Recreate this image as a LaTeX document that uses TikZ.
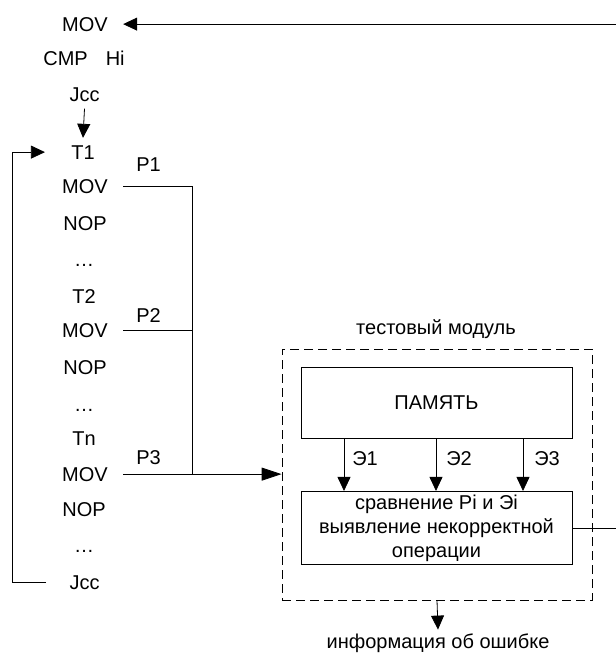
\documentclass[tikz,border=0pt]{standalone}
\usepackage{fontspec}
\setmainfont{Liberation Sans}
\usetikzlibrary{arrows.meta}

\def\ux{1pt}
\def\uy{-1pt}

\begin{document}
\begin{tikzpicture}[x=\ux,y=\uy, font=\fontsize{20}{24}\selectfont, line width=0.8pt]
		\tikzset{
			arr/.style={-{Triangle[length=14pt,width=13pt]}},
			longarr/.style={-{Triangle[length=20pt,width=13pt]}},
			op/.style={anchor=base, inner ysep=7pt, inner xsep=15pt},
			lbl/.style={anchor=base},
			blk/.style={draw, minimum width=271, minimum height=#1, align=center},
			module/.style={draw, dash pattern=on 9pt off 5pt, minimum width=310, minimum height=251},
		}
		\useasboundingbox (0,0) rectangle (616,659);

		% program column
		\foreach \n/\x/\y/\t in {mov0/85/31/MOV, cmp/84/65/{CMP\hspace{0.9em}Hi}, jcc0/84.5/101/Jcc,
		  t1/83/159/T1, mov1/85/193/MOV, nop1/85/230/NOP, dots1/84/266/\ldots,
		  t2/84/303/T2, mov2/85/337/MOV, nop2/85/374/NOP, dots2/84/411/\ldots,
		  tn/84/445/Tn, mov3/85/481/MOV, nop3/84/516/NOP, dots3/84/552/\ldots,
		  jcc/84.5/589/Jcc}{
			\node[op] (\n) at (\x,\y) {\t};
		}
		\foreach \n/\y in {1/171,2/322,3/464}{
			\node[lbl] (p\n) at (148.5,\y) {P\n};
		}
		\coordinate (bus) at (192,0);
		\coordinate (back) at (616,0);

		% test module
		\node[module] (module) at (437,474.5) {};
		\node[lbl] (modname) at (436,334) {тестовый модуль};
		\node[blk=71] (mem) at (436.5,402.5) {ПАМЯТЬ};
		\node[blk=72] (check) at (436.5,528) {сравнение Pi и Эi\\выявление некорректной\\операции};
		\node[lbl] (err) at (438,648) {информация об ошибке};

		\foreach \i/\dx/\lx in {1/-92.5/365,2/-0.5/459,3/86.5/547}{
			\draw[arr] ([xshift=\dx]mem.south) -- ([xshift=\dx]check.north);
			\node[lbl] (e\i) at (\lx,465) {Э\i};
		}

		\draw[arr] (back |- mov0.east) -- (mov0.east);
		\draw[arr] (jcc0.south) -- (t1.north);
		\draw[arr] ([xshift=-8]jcc.west) -- (12,0 |- jcc.west) |- ([xshift=-11]t1.west);
		\draw (mov1.east) -| (bus |- mov3.east);
		\draw (mov2.east) -- (bus |- mov2.east);
		\draw[longarr] (mov3.east) -- (mov3.east -| module.west);
		\draw (check.east) -- (check.east -| back);
		\draw[arr] (module.south) -- (err.north);
\end{tikzpicture}
\end{document}
